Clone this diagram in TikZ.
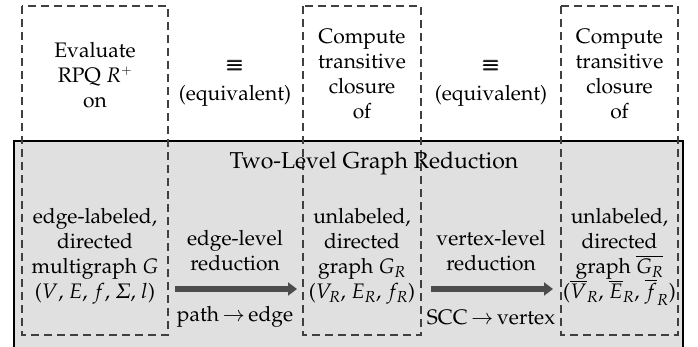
\documentclass[tikz,border=0pt]{standalone}
\usepackage[T1]{fontenc}
\usepackage{amsmath}
\usepackage[slantedGreek]{mathpazo}
\usetikzlibrary{arrows.meta}
\tikzset{
  dbox/.style={draw=black!75, line width=1.5pt, dash pattern=on 8pt off 5pt},
  txt/.style={align=center, inner sep=0pt, font=\fontsize{21}{25}\selectfont},
  ttl/.style={inner sep=0pt, font=\fontsize{23}{27}\selectfont},
  bigarrow/.style={draw=black!70, line width=6pt, -{Triangle[length=9pt,width=13pt]}},
  panel/.style={fill=black!12, draw=black, line width=2pt}
}
\begin{document}
\begin{tikzpicture}[x=1pt,y=-1pt]
\useasboundingbox (0,0) rectangle (698,347);
\clip (0,0) rectangle (698,347);
\fill[white] (0,0) rectangle (698,347);
% panel
\draw[panel] (14,360) -- (14,141) -- (683,141) -- (683,360);
\fill[black!12] (15,142) rectangle (682,360);
% dashed boxes
\draw[dbox] (22,6) rectangle (168,335);
\draw[dbox] (303,6) rectangle (421,335);
\draw[dbox] (561,6) rectangle (678,335);
% top texts
\node[txt] (t1) at (95,75) {Evaluate\\RPQ $R^{\scriptscriptstyle +}$\\on};
\node[txt] (e1) at (235,66) {$\pmb{\equiv}$};
\node[txt] (q1) at (235,96) {(equivalent)};
\node[txt] (t2) at (362,74) {Compute\\transitive\\closure\\of};
\node[txt] (e2) at (491,66) {$\pmb{\equiv}$};
\node[txt] (q2) at (491,96) {(equivalent)};
\node[txt] (t3) at (619.5,74) {Compute\\transitive\\closure\\of};
% title
\node[ttl] (title) at (374,163) {Two-Level Graph Reduction};
% bottom texts
\node[txt] (b1) at (95,256) {edge-labeled,\\directed\\multigraph $G$\\($V$, $E$, $f$, $\Sigma$, $l$)};
\node[txt] (m1) at (235,251) {edge-level\\reduction};
\node[txt] (p1) at (235,317) {path$\,\rightarrow\,$edge};
\node[txt] (b2) at (362,256) {unlabeled,\\directed\\graph $G_R$\\($V_R$, $E_R$, $f_R$)};
\node[txt] (m2) at (491,251) {vertex-level\\reduction};
\node[txt] (p2) at (491,317) {SCC$\,\rightarrow\,$vertex};
\node[txt] (b3) at (619.5,256) {unlabeled,\\directed\\graph \smash{$\overline{G_R}$}\\(\smash{$\overline{V}_R$}, \smash{$\overline{E}_R$}, \smash{$\overline{f}_R$})};
% arrows
\coordinate (a1s) at (175,289);
\coordinate (a1e) at (297,289);
\coordinate (a2s) at (431,289);
\coordinate (a2e) at (553,289);
\draw[bigarrow] (a1s) -- (a1e);
\draw[bigarrow] (a2s) -- (a2e);
\end{tikzpicture}
\end{document}
